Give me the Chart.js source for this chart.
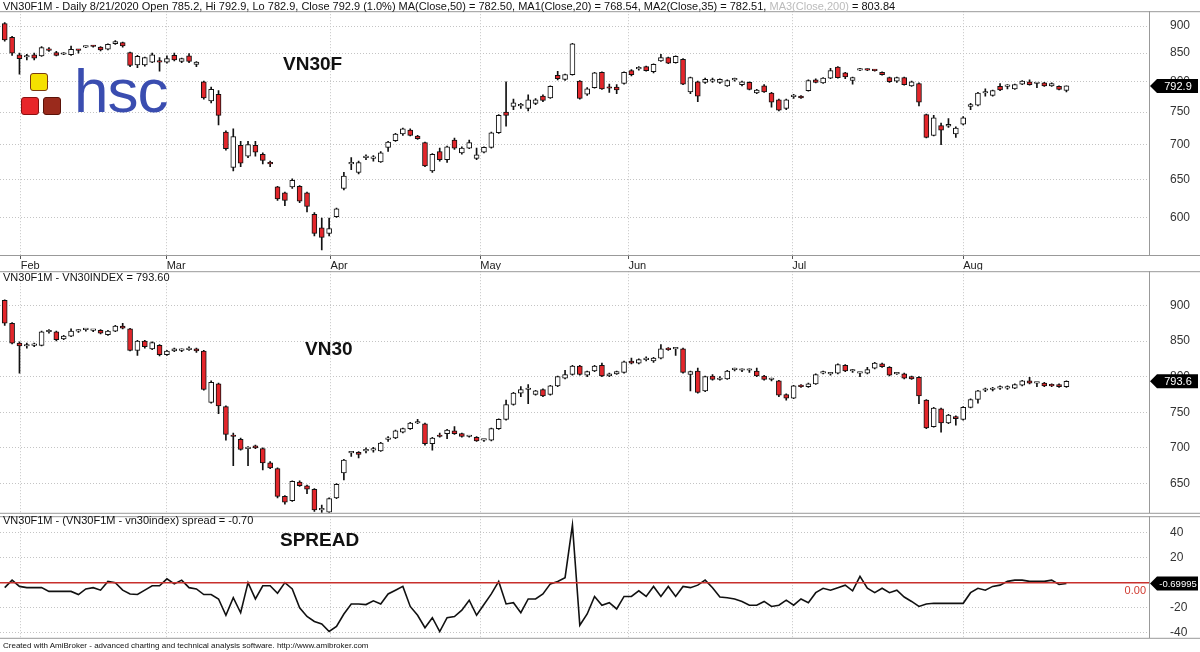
<!DOCTYPE html>
<html>
<head>
<meta charset="utf-8">
<script src="https://cdn.jsdelivr.net/npm/chart.js@4.4.0/dist/chart.umd.min.js"></script>
<style>
  body { margin: 0; background: #fff; font-family: "Liberation Sans", Arial, sans-serif; }
  #wrap { position: relative; width: 1200px; height: 652px; overflow: hidden; }
  .pane { position: absolute; left: 0; }
  .title { position: absolute; left: 3px; font-size: 11px; color: #111; white-space: nowrap; }
  .big { position: absolute; font-weight: bold; font-size: 19px; color: #111; }
  .sq { position: absolute; width: 16px; height: 16px; border-radius: 3px; border: 1px solid #7a3b10; }
</style>
</head>
<body>
<div id="wrap">
  <canvas id="top" class="pane" style="top:0px" width="1200" height="270"></canvas>
  <canvas id="mid" class="pane" style="top:260px" width="1200" height="264"></canvas>
  <canvas id="spr" class="pane" style="top:505px" width="1200" height="144"></canvas>

  <div class="title" style="top:0px">VN30F1M - Daily 8/21/2020 Open 785.2, Hi 792.9, Lo 782.9, Close 792.9 (1.0%) MA(Close,50) = 782.50, MA1(Close,20) = 768.54, MA2(Close,35) = 782.51, <span style="color:#bbb">MA3(Close,200)</span> = 803.84</div>
  <div class="title" style="top:271px">VN30F1M - VN30INDEX = 793.60</div>
  <div class="title" style="top:514px">VN30F1M - (VN30F1M - vn30index) spread = -0.70</div>
  <div class="title" style="top:641px;font-size:8px">Created with AmiBroker - advanced charting and technical analysis software. http://www.amibroker.com</div>

  <div class="big" style="left:283px;top:53px">VN30F</div>
  <div class="big" style="left:305px;top:338px">VN30</div>
  <div class="big" style="left:280px;top:529px">SPREAD</div>

  <div class="sq" style="left:30px;top:73px;background:#f5e000"></div>
  <div class="sq" style="left:21px;top:97px;background:#e8262a;border-color:#8a1010"></div>
  <div class="sq" style="left:43px;top:97px;background:#9a2a1c;border-color:#5a1208"></div>
  <div style="position:absolute;left:74px;top:55px;font-size:62px;color:#3a4db0;font-family:'Liberation Sans',Arial,sans-serif;letter-spacing:-1px">hsc</div>
</div>

<script>
// month grid positions (bar index) and labels
const monthPos = [2.17, 21.96, 44.2, 64.5, 84.6, 106.8, 130];
const monthLabels = ['Feb', 'Mar', 'Apr', 'May', 'Jun', 'Jul', 'Aug'];

// VN30F1M daily
const fOpen = [905,879,847,843,847,845,857,851,848,847,856,861,863,861,857,867,869,851,829,829,834,836,834,846,835,845,830,800,768,779,
  719,667,699,683,699,686,673,640,632,640,641,632,604,587,580,601,638,672,660,681,680,675,696,706,716,722,713,703,662,690,
  678,707,688,695,680,689,696,718,750,759,760,756,764,776,773,811,804,812,801,779,790,816,790,791,797,819,822,826,817,836,
  842,833,839,783,800,799,801,799,793,803,795,799,781,793,781,770,756,775,776,785,803,798,806,825,815,802,820,821,820,816,
  807,801,807,793,797,746,714,729,728,716,731,759,761,781,777,792,792,788,796,800,797,798,793,792,785.2];
const fHigh = [907,881,850,848,850,862,860,853,851,863,857,863,864,862,867,873,870,852,846,843,850,842,845,850,841,849,835,801,791,785,
  721,724,705,705,705,688,676,641,633,651,642,633,606,599,599,612,660,681,676,685,684,690,705,717,725,724,714,704,687,695,
  698,710,697,707,695,697,719,746,800,771,764,778,772,778,793,818,813,868,802,790,816,817,796,795,817,821,826,827,831,848,
  843,845,840,808,801,806,806,805,803,806,801,800,787,795,782,771,771,779,777,803,805,807,823,826,816,808,823,822,821,817,
  808,808,808,801,798,747,745,733,740,727,743,764,782,788,786,797,795,796,802,803,798,799,798,793,792.9];
const fLow = [872,846,813,838,838,844,853,845,847,846,850,860,861,854,856,866,861,826,824,827,833,818,832,836,833,833,826,771,765,730,
  692,662,668,681,683,672,668,622,615,638,619,607,577,560,577,600,636,664,658,678,676,674,690,705,714,713,708,668,660,676,
  674,693,686,694,678,688,695,717,728,754,756,752,762,767,772,803,802,811,771,777,789,787,782,780,796,810,820,818,815,835,
  831,832,795,780,767,797,799,797,792,801,793,786,780,782,758,752,754,772,772,784,798,797,805,806,805,796,819,819,818,811,
  799,799,794,792,760,710,713,700,726,711,730,754,760,776,776,785,788,787,795,794,790,792,792,786,782.9];
const fClose = [874,850,840,845,841,860,855,846,849,857,855,862,862,856,866,871,863,828,844,842,847,834,840,838,840,835,834,773,787,745,
  694,712,673,700,689,677,672,624,622,649,621,614,580,575,586,611,655,673,674,681,681,688,704,716,724,714,709,669,686,678,
  697,695,695,703,685,696,718,745,745,765,761,770,770,769,792,805,812,867,772,788,815,788,789,786,816,812,823,819,830,842,
  832,844,796,807,776,804,802,804,802,804,800,787,786,783,766,753,770,776,773,802,799,806,819,807,808,807,821,820,819,812,
  800,807,795,800,766,711,741,722,731,725,741,762,781,781,785,786,792,795,801,795,797,793,797,787,792.9];

// VN30 index daily
const iOpen = [907,875,847,843,844,844,863,863,853,857,864,866,865,865,859,864,871,867,837,850,839,844,831,836,837,838,839,836,764,790,
  758,717,712,699,703,699,679,671,632,626,652,647,642,613,610,630,665,693,694,696,697,696,712,714,722,727,735,734,706,717,
  720,724,720,716,715,711,711,727,740,761,777,782,775,782,775,787,798,803,815,802,808,816,801,804,806,822,819,824,822,826,
  839,839,839,803,808,780,801,796,797,810,809,809,808,801,796,794,775,770,788,786,790,805,804,805,816,808,805,805,812,818,
  813,804,804,800,799,767,730,755,735,744,740,757,768,781,782,784,784,784,788,794,791,791,789,789,786];
const iHigh = [908,876,849,847,847,864,866,864,858,867,866,867,866,866,865,872,875,868,851,851,849,845,837,840,839,842,840,837,794,791,
  759,721,714,702,704,700,681,672,633,654,654,648,643,620,630,650,684,695,695,700,701,708,716,725,728,736,740,735,715,721,
  726,730,721,717,716,712,728,741,767,778,786,789,781,783,788,801,809,816,816,808,816,819,805,808,822,826,825,828,827,845,
  841,841,840,808,812,801,803,800,809,812,811,811,812,802,798,795,776,788,789,791,804,808,806,818,817,810,806,813,820,819,
  814,806,805,801,800,768,757,756,747,745,758,769,781,784,785,787,787,790,795,799,792,792,790,790,794];
const iLow = [872,846,805,840,842,843,861,850,852,856,862,864,863,860,858,863,867,836,830,840,838,829,830,835,835,837,834,781,763,748,
  711,675,697,675,699,669,671,630,621,625,646,636,611,609,609,629,655,688,686,693,694,695,709,713,721,726,734,704,697,715,
  713,719,715,715,709,709,710,726,739,760,772,762,774,772,774,786,797,802,802,800,807,800,800,803,805,818,818,822,820,825,
  837,830,805,780,777,779,795,795,796,808,807,806,800,795,794,772,767,769,785,785,789,804,802,804,807,806,800,804,811,813,
  801,803,797,796,762,727,729,722,734,732,739,756,763,779,780,782,782,783,787,790,786,786,786,785,785];
const iClose = [875,847,843,844,845,863,864,852,857,864,864,866,865,861,864,871,868,837,850,842,848,831,836,839,837,839,836,782,792,759,
  719,716,698,699,700,679,672,632,624,653,647,642,613,613,629,649,683,694,691,697,698,707,714,724,727,735,736,706,714,716,
  725,720,716,716,710,711,727,740,761,777,782,783,780,773,787,800,803,815,803,807,815,801,804,807,821,819,824,825,826,839,
  838,839,806,807,778,800,796,797,808,810,809,809,801,796,796,774,770,787,786,790,803,805,804,817,808,808,805,810,819,814,
  802,804,798,797,773,728,756,735,746,741,757,768,780,781,782,784,784,789,794,791,791,787,787,786,793.6];

// spread = VN30F1M - vn30index
const spread = [-4,2,-3,-4,-4,-4,-7,-7,-7,-7,-9.5,-5,-4,-6,1,0,-6,-9,-9.5,-6,-2.5,-2.5,3,-1,2,-4,-5,-9.5,-9.5,-13,
  -26,-12,-24,0,-13,-2.5,-2.5,-8.5,0,-5,-20,-27,-31,-33,-39,-35,-25,-17,-17,-17.5,-14.5,-17,-9,-6,-3,-19,-26,-36,-28,-39,
  -28,-27,-22,-14,-26,-17.5,-9,1,-17,-16,-24,-13,-13,-9,-1,1,4,46,-34,-25,-11,-18,-16,-21,-11,-11,-6.5,-11,-3,-11,
  -3,-11,-3,-4,-2,2,-4,-11.5,-12,-13,-15,-18,-18,-15,-19,-18,-14,-18,-13,-16,-8,-4.5,-6,-4,-2,-6.5,5,-4.5,-8,-4.5,
  -8,-6,-11.5,-15,-19,-17,-16.5,-16.5,-16.5,-16.5,-16.5,-8,-4.5,-6,-3,-2,1,2,2,1,1,1,2,-1.5,-0.7];

const topTicks = [600, 650, 700, 750, 800, 850, 900];
const midTicks = [650, 700, 750, 800, 850, 900];
const sprTicks = [-40, -20, 0, 20, 40];

const xMin = -0.64;
const xMax = 155.2;
const labelFont = { size: 12, family: '"Liberation Sans", Arial' };

const lastLabel = {
  id: 'lastLabel',
  afterDraw(chart, args, opts) {
    if (!opts.text) return;
    const ctx = chart.ctx;
    const area = chart.chartArea;
    const y = chart.scales.y.getPixelForValue(opts.value);
    const x = area.right + 1;
    ctx.save();
    // pane frame lines
    ctx.strokeStyle = '#999';
    ctx.lineWidth = 1;
    ctx.beginPath();
    ctx.moveTo(0, area.top + 0.5);
    ctx.lineTo(1200, area.top + 0.5);
    ctx.moveTo(0, area.bottom + 0.5);
    ctx.lineTo(1200, area.bottom + 0.5);
    ctx.stroke();
    if (opts.zeroLine) {
      const y0 = chart.scales.y.getPixelForValue(0);
      ctx.strokeStyle = '#c8302c';
      ctx.lineWidth = 1.5;
      ctx.beginPath();
      ctx.moveTo(area.left, y0);
      ctx.lineTo(area.right, y0);
      ctx.stroke();
      ctx.fillStyle = '#d03a30';
      ctx.font = '11px "Liberation Sans", Arial, sans-serif';
      ctx.textAlign = 'right';
      ctx.textBaseline = 'middle';
      ctx.fillText('0.00', area.right - 3, y0 + 8);
    }
    ctx.fillStyle = '#000';
    ctx.beginPath();
    ctx.moveTo(x, y);
    ctx.lineTo(x + 7, y - 7);
    ctx.lineTo(x + 48, y - 7);
    ctx.lineTo(x + 48, y + 7);
    ctx.lineTo(x + 7, y + 7);
    ctx.closePath();
    ctx.fill();
    ctx.fillStyle = '#fff';
    ctx.font = (opts.size || 11) + 'px "Liberation Sans", Arial, sans-serif';
    ctx.textAlign = 'center';
    ctx.textBaseline = 'middle';
    ctx.fillText(opts.text, x + 28, y + 1);
    ctx.restore();
  }
};

function xScale(showLabels) {
  return {
    type: 'linear', min: xMin, max: xMax, offset: false,
    afterBuildTicks: s => { s.ticks = monthPos.map(v => ({ value: v })); },
    afterFit: s => { s.height = showLabels ? 15 : 0; },
    grid: { color: '#c4c4c4', offset: false, drawTicks: showLabels, tickLength: 4, tickColor: '#555' },
    border: { display: false, dash: [1, 2] },
    ticks: {
      display: showLabels, align: 'start', padding: 0, maxRotation: 0, autoSkip: false,
      color: '#222', font: { size: 11, family: '"Liberation Sans", Arial' },
      callback: (v, i) => monthLabels[i]
    }
  };
}

function yScale(extra, tickList) {
  return Object.assign({
    position: 'right',
    afterBuildTicks: s => { s.ticks = tickList.map(v => ({ value: v })); },
    afterFit: s => { s.width = 51; },
    grid: { color: '#c4c4c4', lineWidth: 1, drawTicks: true, tickLength: 17, tickColor: 'rgba(0,0,0,0)' },
    border: { color: '#999', dash: [1, 2] },
    ticks: { color: '#333', padding: 4, font: labelFont, callback: v => v }
  }, extra);
}

const baseOptions = {
  responsive: false, animation: false, devicePixelRatio: 1,
  layout: { padding: 0, autoPadding: false }
};

function candleChart(id, O, H, L, C, yOpts, tickList, showX, last) {
  const wicks = O.map((o, i) => ({ x: i, y: [L[i], H[i]] }));
  const bodies = O.map((o, i) => ({ x: i, y: [Math.min(o, C[i]), Math.max(o, C[i])] }));
  const fills = O.map((o, i) => C[i] < o ? '#e3262b' : '#ffffff');
  new Chart(document.getElementById(id), {
    type: 'bar',
    data: {
      datasets: [
        { data: wicks, backgroundColor: '#111', barThickness: 1, minBarLength: 1, grouped: false, order: 2 },
        { data: bodies, backgroundColor: fills, borderColor: '#111', borderWidth: 1, borderSkipped: false,
          barThickness: 5, minBarLength: 1.5, grouped: false, order: 1 }
      ]
    },
    options: Object.assign({}, baseOptions, {
      plugins: { legend: { display: false }, tooltip: { enabled: false }, lastLabel: last },
      scales: { x: xScale(showX), y: yScale(yOpts, tickList) }
    }),
    plugins: [lastLabel]
  });
}

candleChart('top', fOpen, fHigh, fLow, fClose, { type: 'logarithmic', min: 554, max: 929 },
  topTicks, true, { text: '792.9', value: 792.9 });

candleChart('mid', iOpen, iHigh, iLow, iClose, { min: 609, max: 948 },
  midTicks, false, { text: '793.6', value: 793.6 });

new Chart(document.getElementById('spr'), {
  type: 'line',
  data: {
    datasets: [{
      data: spread.map((v, i) => ({ x: i, y: v })),
      borderColor: '#111', borderWidth: 1.6, pointRadius: 0, tension: 0
    }]
  },
  options: Object.assign({}, baseOptions, {
    plugins: { legend: { display: false }, tooltip: { enabled: false },
      lastLabel: { text: '-0.69995', value: -0.7, zeroLine: true, size: 9.5 } },
    scales: { x: xScale(false), y: yScale({ min: -44, max: 53 }, sprTicks) }
  }),
  plugins: [lastLabel]
});
</script>
</body>
</html>
